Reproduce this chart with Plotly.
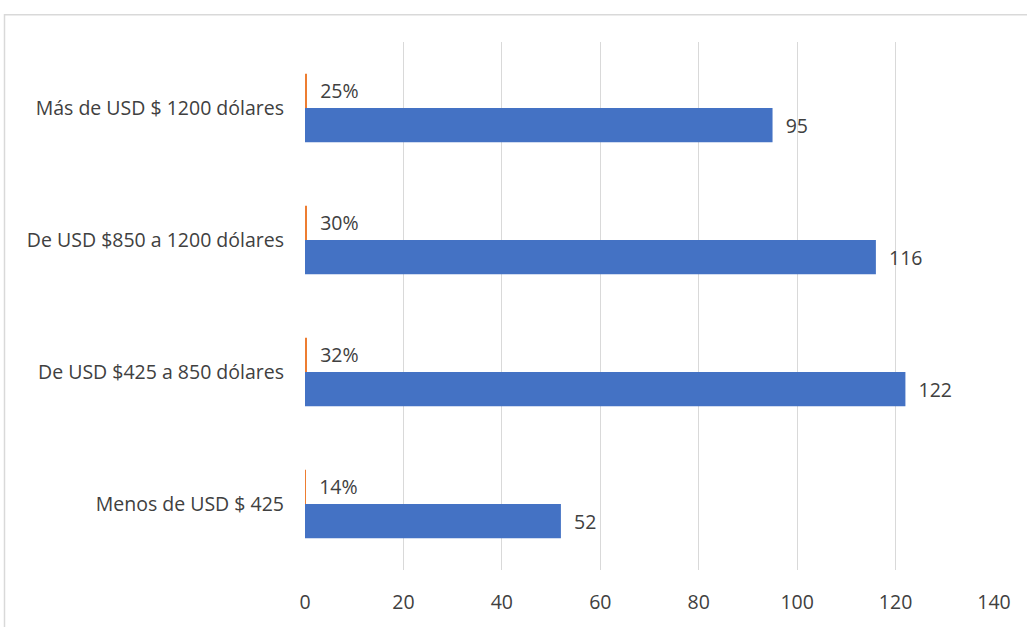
import plotly.graph_objects as go

categories = ["Menos de USD $ 425", "De USD $425 a 850 dólares",
              "De USD $850 a 1200 dólares", "Más de USD $ 1200 dólares"]
counts = [52, 122, 116, 95]
shares = [0.14, 0.32, 0.30, 0.25]
share_labels = ["14%", "32%", "30%", "25%"]
x_ticks = [0, 20, 40, 60, 80, 100, 120, 140]

font_family = "'Open Sans', 'Noto Sans', sans-serif"
text_color = "#404040"
fsize = 19.5

fig = go.Figure()
fig.add_trace(go.Bar(
    y=categories, x=counts, orientation="h",
    marker=dict(color="#4472C4", line=dict(width=0)),
    text=[f"\u00a0\u00a0{v}" for v in counts], textposition="outside",
    textfont=dict(size=fsize, color=text_color, family=font_family),
    cliponaxis=False, name="Cantidad",
))
fig.add_trace(go.Bar(
    y=categories, x=shares, orientation="h",
    marker=dict(color="#ED7D31", line=dict(width=0)),
    text=[f"\u00a0\u00a0{s}" for s in share_labels], textposition="outside",
    textfont=dict(size=fsize, color=text_color, family=font_family),
    cliponaxis=False, name="Porcentaje",
))

fig.update_layout(
    width=1027, height=627,
    margin=dict(l=305, r=33, t=42, b=53),
    paper_bgcolor="white", plot_bgcolor="white",
    barmode="group", bargap=0.48, bargroupgap=0,
    showlegend=False,
    font=dict(family=font_family, size=fsize, color=text_color),
    xaxis=dict(
        range=[0, 140], tickvals=x_ticks, showgrid=True,
        gridcolor="#d9d9d9", gridwidth=1,
        zeroline=True, zerolinecolor="white", zerolinewidth=1,
        showline=False, ticks="", ticklabelstandoff=18,
        tickfont=dict(size=fsize, color=text_color),
    ),
    yaxis=dict(
        categoryorder="array", categoryarray=categories,
        showgrid=False, showline=False, ticks="", ticklabelstandoff=20,
        tickfont=dict(size=fsize, color=text_color),
    ),
    shapes=[dict(
        type="rect", xref="paper", yref="paper",
        x0=(4.5 - 305) / 689, x1=1.06, y0=-0.2, y1=1 + (42 - 14.5) / 532,
        line=dict(color="#d9d9d9", width=1.5), fillcolor="rgba(0,0,0,0)",
        layer="below",
    )],
)

fig.write_html(
    "out.html",
    config={"displayModeBar": False},
    post_script="document.body.style.margin='0';document.body.style.overflow='hidden';",
)
